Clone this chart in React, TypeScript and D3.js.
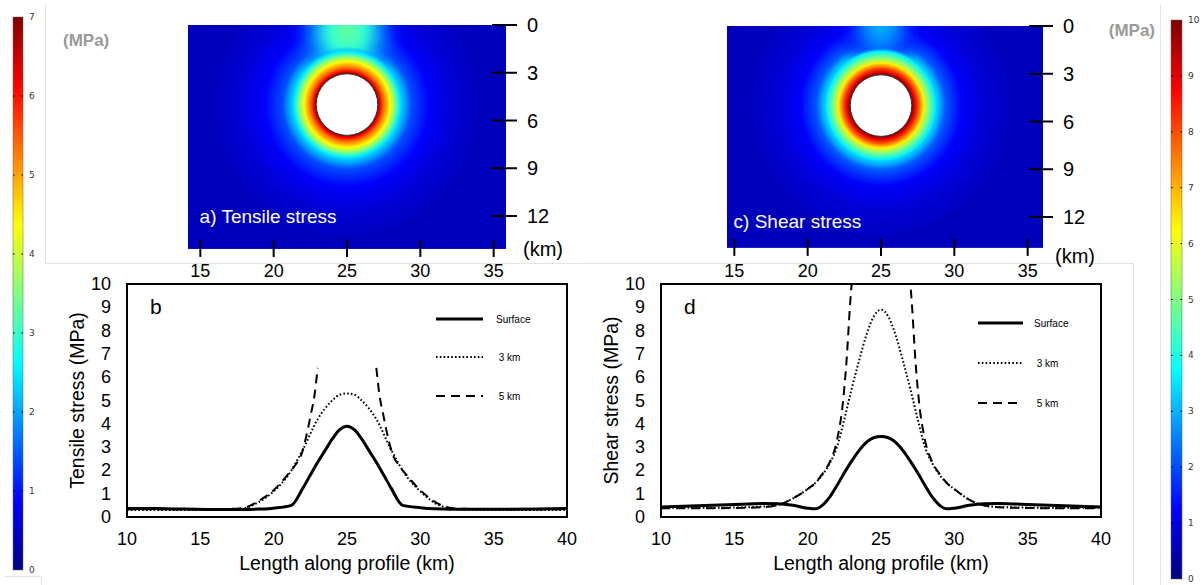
import React from "react";
import * as d3 from "d3";

const W = 1203;
const H = 585;
const FONT = "'Liberation Sans', Arial, Helvetica, sans-serif";

type Pt = [number, number];

// ---------- axis ticks ----------
const xTicks = [10, 15, 20, 25, 30, 35, 40];
const yTicks = [0, 1, 2, 3, 4, 5, 6, 7, 8, 9, 10];
const mapXTicks = [15, 20, 25, 30, 35];
const depthTicks = [0, 3, 6, 9, 12];
const leftBarTicks = [0, 1, 2, 3, 4, 5, 6, 7];
const rightBarTicks = [0, 1, 2, 3, 4, 5, 6, 7, 8, 9, 10];
const legendLabels = ["Surface", " 3 km", " 5 km"];

// ---------- b) tensile stress profiles (km, MPa) ----------
const tensileSurface: Pt[] = [
  [10, 0.37], [12, 0.36], [14, 0.34], [16, 0.32], [18, 0.32], [19, 0.34], [20, 0.38],
  [21.2, 0.5], [22, 1.25], [22.5, 1.8], [23, 2.35], [23.5, 2.85], [24, 3.35], [24.5, 3.75],
  [25, 3.9], [25.5, 3.75], [26, 3.35], [26.5, 2.85], [27, 2.35], [27.5, 1.8], [28, 1.25],
  [28.8, 0.5], [30, 0.4], [31, 0.35], [32, 0.33], [35, 0.33], [38, 0.34], [40, 0.36],
];
const tensile3km: Pt[] = [
  [10, 0.3], [14, 0.3], [17, 0.32], [18, 0.38], [19, 0.65], [20, 1.1], [21, 1.8], [22, 2.9],
  [23, 4.2], [24, 5.0], [24.5, 5.25], [25, 5.3], [25.5, 5.25], [26, 5.0], [27, 4.2], [28, 2.9],
  [29, 1.8], [30, 1.1], [31, 0.6], [32, 0.38], [33, 0.32], [36, 0.3], [40, 0.3],
];
const tensile5kmLeft: Pt[] = [
  [10, 0.33], [14, 0.33], [17, 0.35], [18, 0.4], [19, 0.7], [20, 1.15], [21, 1.85], [21.5, 2.25],
  [21.9, 2.7], [22.2, 3.4], [22.5, 4.3], [22.8, 5.3], [23, 6.4],
];
const tensile5kmRight: Pt[] = [
  [27, 6.4], [27.2, 5.3], [27.5, 4.3], [27.8, 3.4], [28.1, 2.7], [28.5, 2.25], [29, 1.85],
  [30, 1.15], [31, 0.65], [32, 0.4], [33, 0.35], [36, 0.33], [40, 0.33],
];

// ---------- d) shear stress profiles (km, MPa) ----------
const shearSurface: Pt[] = [
  [10, 0.43], [12, 0.47], [14, 0.52], [16, 0.56], [17, 0.58], [18, 0.57], [19, 0.5], [20, 0.38],
  [20.5, 0.35], [21, 0.5], [21.5, 0.85], [22, 1.35], [22.5, 1.9], [23, 2.4], [23.5, 2.85],
  [24, 3.2], [24.5, 3.4], [25, 3.45], [25.5, 3.4], [26, 3.2], [26.5, 2.85], [27, 2.4],
  [27.5, 1.9], [28, 1.35], [28.5, 0.85], [29, 0.5], [29.5, 0.35], [30, 0.38], [31, 0.5],
  [32, 0.57], [33, 0.58], [34, 0.56], [36, 0.52], [38, 0.47], [40, 0.43],
];
const shear3km: Pt[] = [
  [10, 0.4], [14, 0.4], [17, 0.45], [18, 0.52], [19, 0.8], [20, 1.2], [20.5, 1.45], [21, 1.8],
  [21.5, 2.3], [22, 3.0], [22.5, 4.2], [23, 5.5], [23.5, 6.7], [24, 7.8], [24.5, 8.6], [25, 8.9],
  [25.5, 8.6], [26, 7.8], [26.5, 6.7], [27, 5.5], [27.5, 4.2], [28, 3.0], [28.5, 2.3], [29, 1.8],
  [29.5, 1.45], [30, 1.2], [31, 0.75], [32, 0.5], [33, 0.43], [36, 0.4], [40, 0.4],
];
const shear5kmLeft: Pt[] = [
  [10, 0.38], [14, 0.38], [17, 0.42], [18, 0.52], [19, 0.8], [20, 1.2], [20.5, 1.45], [21, 1.85],
  [21.5, 2.35], [22, 3.3], [22.4, 4.9], [22.65, 6.7], [22.9, 9.2], [23.05, 10.4],
];
const shear5kmRight: Pt[] = [
  [26.95, 10.4], [27.1, 9.2], [27.35, 6.7], [27.6, 4.9], [28, 3.3], [28.5, 2.35], [29, 1.85],
  [29.5, 1.45], [30, 1.2], [31, 0.75], [32, 0.5], [33, 0.42], [36, 0.38], [40, 0.38],
];

// ---------- maps: radial stress around chamber (distance km, MPa) ----------
const chamberCenter: Pt = [25, 5];
const chamberRadius = 2.1;
const tensileRing: Pt[] = [
  [2.1, 7], [2.25, 6.2], [2.5, 5.4], [2.93, 4.4], [3.3, 3.4], [3.6, 2.5], [4.4, 1.4],
  [5.6, 0.85], [7.3, 0.58], [9.0, 0.45],
];
const shearRing: Pt[] = [
  [2.1, 10], [2.3, 9], [2.55, 8], [2.9, 6.4], [3.25, 5], [3.7, 3.6], [4.4, 2.1], [5.5, 1.2],
  [7.0, 0.85], [8.8, 0.65],
];
// plume toward surface: [relative radius, MPa]
const tensilePlume: Pt[] = [[0, 3.4], [0.35, 2.9], [0.65, 1.8], [1, 1.0]];
const shearPlume: Pt[] = [[0, 3.1], [0.35, 2.5], [0.65, 1.6], [1, 1.1]];
const tensileBg = 0.42;
const shearBg = 0.6;

// ---------- jet colormap ----------
const jetPos = [0, 0.125, 0.375, 0.625, 0.875, 1];
const jetCol = ["#00007f", "#0000ff", "#00ffff", "#ffff00", "#ff0000", "#7f0000"];
const makeJet = (max: number) =>
  d3
    .scaleLinear<string>()
    .domain(jetPos.map((p) => p * max))
    .range(jetCol)
    .interpolate(d3.interpolateRgb)
    .clamp(true);

// ---------- line chart ----------
type Series = { segs: Pt[][]; width: number; dash?: string };

function Chart(props: {
  id: string;
  x0: number;
  x1: number;
  series: Series[];
  letter: string;
  yTitle: string;
  yTitleX: number;
  legX: [number, number, number];
  legY: number[];
}) {
  const { id, x0, x1, series, letter, yTitle, yTitleX, legX, legY } = props;
  const x = d3.scaleLinear().domain([10, 40]).range([x0, x1]);
  const y = d3.scaleLinear().domain([0, 10]).range([517, 284]);
  const line = d3
    .line<Pt>()
    .x((d) => x(d[0]))
    .y((d) => y(d[1]))
    .curve(d3.curveMonotoneX);
  const [ya, yb] = [y(10), y(0)];
  return (
    <g fontFamily={FONT}>
      <defs>
        <clipPath id={id + "-clip"}>
          <rect x={x0} y={ya} width={x1 - x0} height={yb - ya} />
        </clipPath>
      </defs>
      <g clipPath={`url(#${id}-clip)`}>
        {series.map((s, i) =>
          s.segs.map((seg, j) => (
            <path
              key={i + "-" + j}
              d={line(seg) || ""}
              fill="none"
              stroke="#000"
              strokeWidth={s.width}
              strokeDasharray={s.dash}
              strokeLinecap="butt"
            />
          ))
        )}
      </g>
      <rect x={x0} y={ya} width={x1 - x0} height={yb - ya} fill="none" stroke="#000" strokeWidth={2} />
      {xTicks.map((t) => (
        <text key={t} x={x(t)} y={545} fontSize={18} textAnchor="middle" fill="#000">
          {t}
        </text>
      ))}
      {yTicks.map((t) => (
        <text key={t} x={x0 - 16} y={y(t)} fontSize={18} textAnchor="end" dominantBaseline="central" fill="#000">
          {t}
        </text>
      ))}
      <text x={(x0 + x1) / 2} y={570} fontSize={19.5} textAnchor="middle" fill="#000">
        Length along profile (km)
      </text>
      <text
        transform={`translate(${yTitleX},${(ya + yb) / 2}) rotate(-90)`}
        fontSize={19.5}
        textAnchor="middle"
        dominantBaseline="central"
        fill="#000"
      >
        {yTitle}
      </text>
      <text x={x0 + 23} y={314} fontSize={21} fill="#000">
        {letter}
      </text>
      {series.map((s, i) => (
        <g key={"leg" + i}>
          <line
            x1={legX[0]}
            x2={legX[1]}
            y1={legY[i]}
            y2={legY[i]}
            stroke="#000"
            strokeWidth={s.width}
            strokeDasharray={s.dash}
          />
          <text x={legX[2]} y={legY[i]} fontSize={10} dominantBaseline="central" fill="#000" style={{ whiteSpace: "pre" }}>
            {legendLabels[i]}
          </text>
        </g>
      ))}
    </g>
  );
}

// ---------- stress map ----------
function StressMap(props: {
  id: string;
  x0: number;
  x1: number;
  dTop: number;
  d12: number;
  ext: [number, number, number]; // xmin km, xmax km, max depth km
  ring: Pt[];
  plume: Pt[];
  plumeGeom: [number, number, number]; // center depth, rx km, ry km
  vmax: number;
  bg: number;
  title: string;
  titleY: number;
  tickR: [number, number, number];
  kmY: number;
  kmX: number;
}) {
  const { id, x0, x1, dTop, d12, ext, ring, plume, plumeGeom, vmax, bg, title, titleY, tickR, kmY, kmX } = props;
  const x = d3.scaleLinear().domain([10, 40]).range([x0, x1]);
  const dz = d3.scaleLinear().domain([0, 12]).range([dTop, d12]);
  const jet = makeJet(vmax);
  const pxPerKm = x(1) - x(0);
  const cx = x(chamberCenter[0]);
  const cy = dz(chamberCenter[1]);
  const haloR = ring[ring.length - 1][0];
  const coreR = 3.95;
  const coreStops = ring.filter((r) => r[0] <= 3.7);
  const rx0 = x(ext[0]);
  const rx1 = x(ext[1]);
  const ry0 = dz(0);
  const ry1 = dz(ext[2]);
  const prx = plumeGeom[1] * pxPerKm;
  const pry = dz(plumeGeom[2]) - dz(0);
  return (
    <g fontFamily={FONT}>
      <defs>
        <clipPath id={id + "-clip"}>
          <rect x={rx0} y={ry0} width={rx1 - rx0} height={ry1 - ry0} />
        </clipPath>
        <radialGradient id={id + "-halo"} gradientUnits="userSpaceOnUse" cx={cx} cy={cy} r={haloR * pxPerKm}>
          {ring.map((s, i) => (
            <stop key={i} offset={s[0] / haloR} stopColor={jet(s[1])} />
          ))}
        </radialGradient>
        <radialGradient id={id + "-core"} gradientUnits="userSpaceOnUse" cx={cx} cy={cy} r={coreR * pxPerKm}>
          {coreStops.map((s, i) => (
            <stop key={i} offset={s[0] / coreR} stopColor={jet(s[1])} />
          ))}
          <stop offset={1} stopColor={jet(0.26 * vmax)} stopOpacity={0} />
        </radialGradient>
        <radialGradient id={id + "-plume"}>
          {plume.map((s, i) => (
            <stop
              key={i}
              offset={s[0]}
              stopColor={jet(s[1])}
              stopOpacity={i === plume.length - 1 ? 0 : i === plume.length - 2 ? 0.8 : 1}
            />
          ))}
        </radialGradient>
        <filter id={id + "-blur"} x="-30%" y="-30%" width="160%" height="160%">
          <feGaussianBlur stdDeviation={5} />
        </filter>
      </defs>
      <g clipPath={`url(#${id}-clip)`}>
        <rect x={rx0} y={ry0} width={rx1 - rx0} height={ry1 - ry0} fill={jet(bg)} />
        <circle cx={cx} cy={cy} r={haloR * pxPerKm} fill={`url(#${id}-halo)`} />
        <ellipse
          cx={cx}
          cy={dz(plumeGeom[0])}
          rx={prx}
          ry={pry}
          fill={`url(#${id}-plume)`}
          filter={`url(#${id}-blur)`}
        />
        <circle cx={cx} cy={cy} r={coreR * pxPerKm} fill={`url(#${id}-core)`} />
        <circle cx={cx} cy={cy} r={chamberRadius * pxPerKm} fill="#fff" stroke="#333" strokeWidth={1} />
      </g>
      <text x={x(14.95)} y={titleY} fontSize={19} fill="#fff">
        {title}
      </text>
      {depthTicks.map((t) => (
        <g key={t}>
          <line x1={tickR[0]} x2={tickR[1]} y1={dz(t)} y2={dz(t)} stroke="#000" strokeWidth={2} />
          <text x={tickR[2]} y={dz(t)} fontSize={20} dominantBaseline="central" fill="#000">
            {t}
          </text>
        </g>
      ))}
      {mapXTicks.map((t) => (
        <g key={t}>
          <line x1={x(t)} x2={x(t)} y1={ry1 - 9} y2={ry1 + 8} stroke="#000" strokeWidth={2} />
          <text x={x(t)} y={277} fontSize={18} textAnchor="middle" fill="#000">
            {t}
          </text>
        </g>
      ))}
      <text x={kmX} y={kmY} fontSize={20} dominantBaseline="central" fill="#000">
        (km)
      </text>
    </g>
  );
}

// ---------- colour bar ----------
function ColorBar(props: { id: string; x: number; w: number; yTop: number; yBot: number; vmax: number; ticks: number[]; labelX: number }) {
  const { id, x, w, yTop, yBot, vmax, ticks, labelX } = props;
  const s = d3.scaleLinear().domain([0, vmax]).range([yBot, yTop]);
  const jet = makeJet(vmax);
  const stops = d3.range(0, 1.0001, 0.025);
  return (
    <g>
      <defs>
        <linearGradient id={id} x1="0" y1="1" x2="0" y2="0">
          {stops.map((t, i) => (
            <stop key={i} offset={t} stopColor={jet(t * vmax)} />
          ))}
        </linearGradient>
      </defs>
      <rect x={x} y={yTop} width={w} height={yBot - yTop} fill={`url(#${id})`} stroke="#666" strokeWidth={0.5} />
      {ticks.map((t) => (
        <g key={t}>
          {t > 0 && t < vmax && (
            <>
              <line x1={x} x2={x + 1.5} y1={s(t)} y2={s(t)} stroke="#000" strokeWidth={1} />
              <line x1={x + w - 1.5} x2={x + w} y1={s(t)} y2={s(t)} stroke="#000" strokeWidth={1} />
            </>
          )}
          <text x={labelX} y={s(t)} fontSize={9} dominantBaseline="central" fill="#333" fontFamily="'DejaVu Sans', Verdana, sans-serif">
            {t}
          </text>
        </g>
      ))}
    </g>
  );
}

export default function App() {
  const tensileSeries: Series[] = [
    { segs: [tensileSurface], width: 3 },
    { segs: [tensile3km], width: 2, dash: "1.6,2.2" },
    { segs: [tensile5kmLeft, tensile5kmRight], width: 2, dash: "9,6" },
  ];
  const shearSeries: Series[] = [
    { segs: [shearSurface], width: 3 },
    { segs: [shear3km], width: 2, dash: "1.6,2.2" },
    { segs: [shear5kmLeft, shear5kmRight], width: 2, dash: "9,6" },
  ];
  return (
    <svg
      width={W}
      height={H}
      viewBox={`0 0 ${W} ${H}`}
      style={{ position: "absolute", left: 0, top: 0, background: "#fff" }}
    >
      <rect width={W} height={H} fill="#fff" />
      {/* faint panel borders */}
      <path d="M45.5,5 V263.5 H1133.5 V585" fill="none" stroke="#e2e2e2" strokeWidth={1} />
      <path d="M1160.5,5 V585" fill="none" stroke="#e2e2e2" strokeWidth={1} />
      <path d="M5,576.5 H41.5 V585" fill="none" stroke="#e2e2e2" strokeWidth={1} />

      <ColorBar id="cbL" x={13} w={10} yTop={17} yBot={570} vmax={7} ticks={leftBarTicks} labelX={29} />
      <ColorBar id="cbR" x={1171} w={11} yTop={20} yBot={579} vmax={10} ticks={rightBarTicks} labelX={1188} />

      <text x={63} y={40} fontSize={17} fontWeight="bold" fill="#999" dominantBaseline="central" fontFamily={FONT}>
        (MPa)
      </text>
      <text x={1155} y={30} fontSize={17} fontWeight="bold" fill="#999" textAnchor="end" dominantBaseline="central" fontFamily={FONT}>
        (MPa)
      </text>

      <StressMap
        id="mapA"
        x0={127}
        x1={567}
        dTop={25}
        d12={216}
        ext={[14.16, 35.84, 14.07]}
        ring={tensileRing}
        plume={tensilePlume}
        plumeGeom={[0.4, 3.8, 3.8]}
        vmax={7}
        bg={tensileBg}
        title="a) Tensile stress"
        titleY={223}
        tickR={[492, 517, 527]}
        kmX={523}
        kmY={249}
      />
      <StressMap
        id="mapC"
        x0={661}
        x1={1101}
        dTop={26}
        d12={217}
        ext={[14.5, 36.05, 13.94]}
        ring={shearRing}
        plume={shearPlume}
        plumeGeom={[0.0, 3.0, 3.3]}
        vmax={10}
        bg={shearBg}
        title="c) Shear stress"
        titleY={228}
        tickR={[1029, 1053, 1063]}
        kmX={1055}
        kmY={256}
      />

      <Chart
        id="chB"
        x0={127}
        x1={567}
        series={tensileSeries}
        letter="b"
        yTitle="Tensile stress (MPa)"
        yTitleX={77}
        legX={[436, 483, 496]}
        legY={[319, 357, 396]}
      />
      <Chart
        id="chD"
        x0={661}
        x1={1101}
        series={shearSeries}
        letter="d"
        yTitle="Shear stress (MPa)"
        yTitleX={611}
        legX={[978, 1023, 1034]}
        legY={[323, 363, 403]}
      />
    </svg>
  );
}
